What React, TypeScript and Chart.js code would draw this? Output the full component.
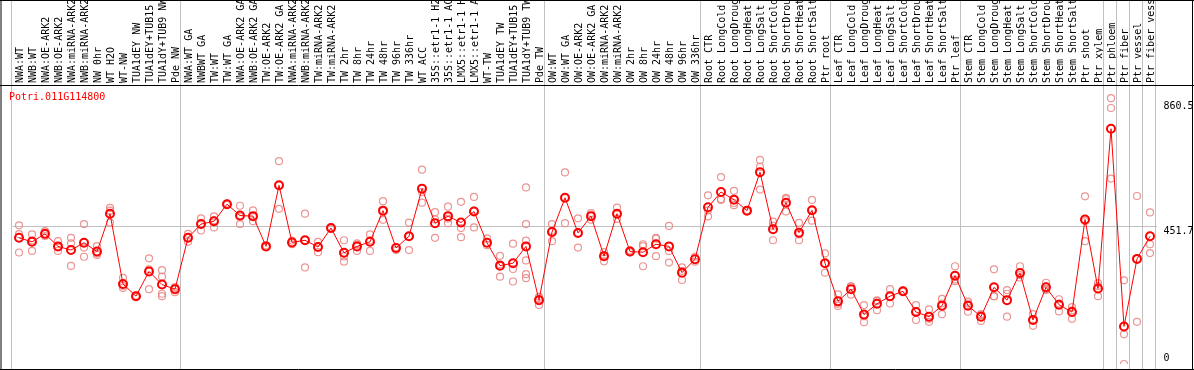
import { useEffect, useRef } from 'react';
import { Chart, registerables } from 'chart.js';

Chart.register(...registerables);

const geneTitle = 'Potri.011G114800';

const categories = [
  'NWA:WT', 'NWB:WT', 'NWA:OE-ARK2', 'NWB:OE-ARK2', 'NWA:miRNA-ARK2', 'NWB:miRNA-ARK2', 'NW 0hr', 'WT H2O', 'WT-NW',
  'TUA1dEY NW', 'TUA1dEY+TUB15 NW', 'TUA1dY+TUB9 NW', 'Pde NW',
  'NWA:WT GA', 'NWBWT GA', 'TW:WT', 'TW:WT GA', 'NWA:OE-ARK2 GA', 'NWB:OE-ARK2 GA', 'TW:OE-ARK2', 'TW:OE-ARK2 GA',
  'NWA:miRNA-ARK2', 'NWB:miRNA-ARK2', 'TW:miRNA-ARK2', 'TW:miRNA-ARK2', 'TW 2hr', 'TW 8hr', 'TW 24hr', 'TW 48hr',
  'TW 96hr', 'TW 336hr', 'WT ACC', '35S::etr1-1 H2O', '35S::etr1-1 ACC', 'LMX5::etr1-1 H2O', 'LMX5::etr1-1 ACC',
  'WT-TW', 'TUA1dEY TW', 'TUA1dEY+TUB15 TW', 'TUA1dY+TUB9 TW', 'Pde TW',
  'OW:WT', 'OW:WT GA', 'OW:OE-ARK2', 'OW:OE-ARK2 GA', 'OW:miRNA-ARK2', 'OW:miRNA-ARK2', 'OW 2hr', 'OW 8hr',
  'OW 24hr', 'OW 48hr', 'OW 96hr', 'OW 336hr',
  'Root CTR', 'Root LongCold', 'Root LongDrought', 'Root LongHeat', 'Root LongSalt', 'Root ShortCold',
  'Root ShortDrought', 'Root ShortHeat', 'Root ShortSalt', 'Ptr root',
  'Leaf CTR', 'Leaf LongCold', 'Leaf LongDrought', 'Leaf LongHeat', 'Leaf LongSalt', 'Leaf ShortCold',
  'Leaf ShortDrought', 'Leaf ShortHeat', 'Leaf ShortSalt', 'Ptr leaf',
  'Stem CTR', 'Stem LongCold', 'Stem LongDrought', 'Stem LongHeat', 'Stem LongSalt', 'Stem ShortCold',
  'Stem ShortDrought', 'Stem ShortHeat', 'Stem ShortSalt', 'Ptr shoot', 'Ptr xylem',
  'Ptr phloem', 'Ptr fiber', 'Ptr vessel', 'Ptr fiber vessel',
];

const meanValues = [
  413, 400, 426, 385, 373, 397, 368, 492, 262, 222, 303, 260, 245,
  413, 458, 467, 523, 486, 484, 385, 585, 398, 405, 383, 445, 364, 385, 400, 502,
  380, 418, 574, 461, 484, 463, 499, 397, 322, 330, 385, 209,
  432, 544, 429, 484, 353, 492, 368, 366, 392, 385, 299, 343,
  513, 563, 538, 502, 628, 441, 528, 430, 503, 330,
  205, 245, 162, 197, 222, 238, 170, 155, 191, 289,
  191, 155, 251, 209, 298, 144, 251, 194, 170, 473, 247,
  770, 123, 344, 418,
];

const replicateValues = [
  [454, 425, 365], [424, 405, 370], [435, 425, 419], [402, 384, 370], [413, 395, 321], [458, 381, 351],
  [386, 362, 357], [511, 502, 463], [282, 256, 249], [224, 220], [346, 310, 245], [307, 286, 230, 222],
  [252, 248, 235],
  [426, 413, 400], [477, 460, 437], [483, 470, 447], [525, 521], [518, 482, 458], [503, 482, 467],
  [388, 383], [664, 585, 508], [404, 392], [492, 405, 316], [400, 383, 366], [447, 443], [405, 352, 335],
  [390, 395, 370], [424, 405, 370], [533, 500, 472], [382, 373], [463, 418, 373], [636, 563, 528],
  [497, 473, 413], [515, 476, 461], [531, 445, 415], [547, 502, 447], [411, 389], [354, 326, 286],
  [394, 311, 270], [578, 458, 404, 339, 294, 281], [220, 213, 193],
  [458, 436, 402], [627, 544, 461], [477, 429, 381], [494, 486, 472], [366, 356, 336], [512, 490, 475],
  [372, 365], [392, 386, 320], [413, 410, 353], [452, 370, 332], [316, 305, 275], [351, 335],
  [552, 503, 483], [612, 540, 537], [567, 527, 520], [504, 500], [668, 645, 571], [466, 452, 405],
  [544, 540, 499], [462, 424, 405], [537, 503, 469], [362, 329, 299],
  [228, 197, 190], [254, 254, 227], [193, 156, 137], [208, 206, 176], [245, 222, 198], [240, 236],
  [193, 173, 144], [179, 148, 138], [213, 198, 163], [320, 276, 271],
  [204, 198, 171], [163, 160, 141], [310, 222, 222], [242, 230, 155], [320, 291, 283], [163, 143, 125],
  [266, 245, 242], [212, 198, 172], [186, 176, 148], [549, 468, 402], [265, 255, 222],
  [870, 838, 607], [274, 97, 0], [550, 344, 138], [496, 392, 363],
];

const yTickValues = [0, 451.7, 860.5];
const yMax = 910;
// index of the last category of each group (-1 = before the first)
const groupBoundaries = [-1, 12, 40, 52, 62, 72, 83, 84, 85, 86, 87];

const MONO = '"DejaVu Sans Mono", "Liberation Mono", monospace';

export default function App() {
  const canvasRef = useRef<HTMLCanvasElement>(null);

  useEffect(() => {
    document.body.style.margin = '0';
    const canvas = canvasRef.current;
    if (!canvas) return;

    const replicatePoints = replicateValues.flatMap((vals, i) => vals.map((v) => ({ x: i, y: v })));

    const overlay = {
      id: 'overlay',
      beforeDatasetsDraw(chart: any) {
        const { ctx, scales } = chart;
        const x = scales.x;
        ctx.save();
        ctx.strokeStyle = '#c0c0c0';
        ctx.lineWidth = 1;
        groupBoundaries.forEach((b) => {
          const px = Math.round(x.getPixelForValue(b + 0.5)) - 1.5;
          ctx.beginPath();
          ctx.moveTo(px, 0);
          ctx.lineTo(px, chart.height);
          ctx.stroke();
        });
        ctx.restore();
      },
      afterDraw(chart: any) {
        const { ctx, chartArea, scales } = chart;
        const y = scales.y;
        const W = chart.width;
        const H = chart.height;
        ctx.save();
        ctx.strokeStyle = '#000';
        ctx.lineWidth = 1;
        ctx.beginPath();
        ctx.moveTo(0, 0.5); ctx.lineTo(W, 0.5);
        ctx.moveTo(0, chartArea.top - 0.5); ctx.lineTo(W, chartArea.top - 0.5);
        ctx.moveTo(0, H - 0.5); ctx.lineTo(W, H - 0.5);
        ctx.moveTo(1, 0); ctx.lineTo(1, H);
        ctx.moveTo(W - 1.5, 0); ctx.lineTo(W - 1.5, H);
        ctx.stroke();

        ctx.font = '10px ' + MONO;
        ctx.fillStyle = '#ff0000';
        ctx.textAlign = 'left';
        ctx.textBaseline = 'middle';
        ctx.fillText(geneTitle, 9, chartArea.top + 11);

        ctx.fillStyle = '#000';
        yTickValues.forEach((v) => {
          const py = y.getPixelForValue(v);
          const ty = v === 0 ? py - 6 : py + 5;
          ctx.fillText(String(v), chartArea.right + 7, ty);
        });
        ctx.restore();
      },
    };

    const chart = new Chart(canvas, {
      type: 'line',
      data: {
        labels: categories,
        datasets: [
          {
            label: 'mean',
            data: meanValues,
            borderColor: '#ff0000',
            borderWidth: 1,
            tension: 0,
            pointRadius: 4,
            pointBorderWidth: 2,
            pointBorderColor: '#ff0000',
            pointBackgroundColor: 'rgba(0,0,0,0)',
          },
          {
            label: 'replicates',
            xAxisID: 'xr',
            data: replicatePoints as any,
            showLine: false,
            pointRadius: 3.5,
            pointBorderWidth: 1.2,
            pointBorderColor: 'rgba(232,130,130,0.85)',
            pointBackgroundColor: 'rgba(0,0,0,0)',
          },
        ],
      },
      options: {
        responsive: false,
        animation: false,
        devicePixelRatio: 1,
        events: [],
        layout: { padding: { left: 12.5, right: 0, top: 0, bottom: 2 } },
        plugins: { legend: { display: false }, tooltip: { enabled: false }, title: { display: false } },
        scales: {
          x: {
            type: 'category',
            position: 'top',
            offset: true,
            grid: { display: false, drawTicks: false },
            border: { display: false },
            ticks: {
              autoSkip: false,
              maxRotation: 90,
              minRotation: 90,
              padding: 3,
              labelOffset: 13.5,
              color: '#000',
              font: { family: MONO, size: 10 },
            },
            afterFit: (s: any) => { s.height = 86; },
          },
          xr: {
            type: 'linear',
            position: 'top',
            display: false,
            min: -0.5,
            max: categories.length - 0.5,
          },
          y: {
            position: 'right',
            min: 0,
            max: yMax,
            grid: {
              drawTicks: false,
              color: (c: any) => (c.tick && c.tick.value === 451.7 ? '#c0c0c0' : 'rgba(0,0,0,0)'),
            },
            border: { display: false },
            ticks: { display: false },
            afterBuildTicks: (s: any) => { s.ticks = yTickValues.map((v) => ({ value: v })); },
            afterFit: (s: any) => { s.width = 37.5; },
          },
        },
      },
      plugins: [overlay],
    });

    return () => chart.destroy();
  }, []);

  return (
    <div style={{ position: 'absolute', left: 0, top: 0 }}>
      <canvas ref={canvasRef} width={1194} height={370} style={{ display: 'block' }} />
    </div>
  );
}
